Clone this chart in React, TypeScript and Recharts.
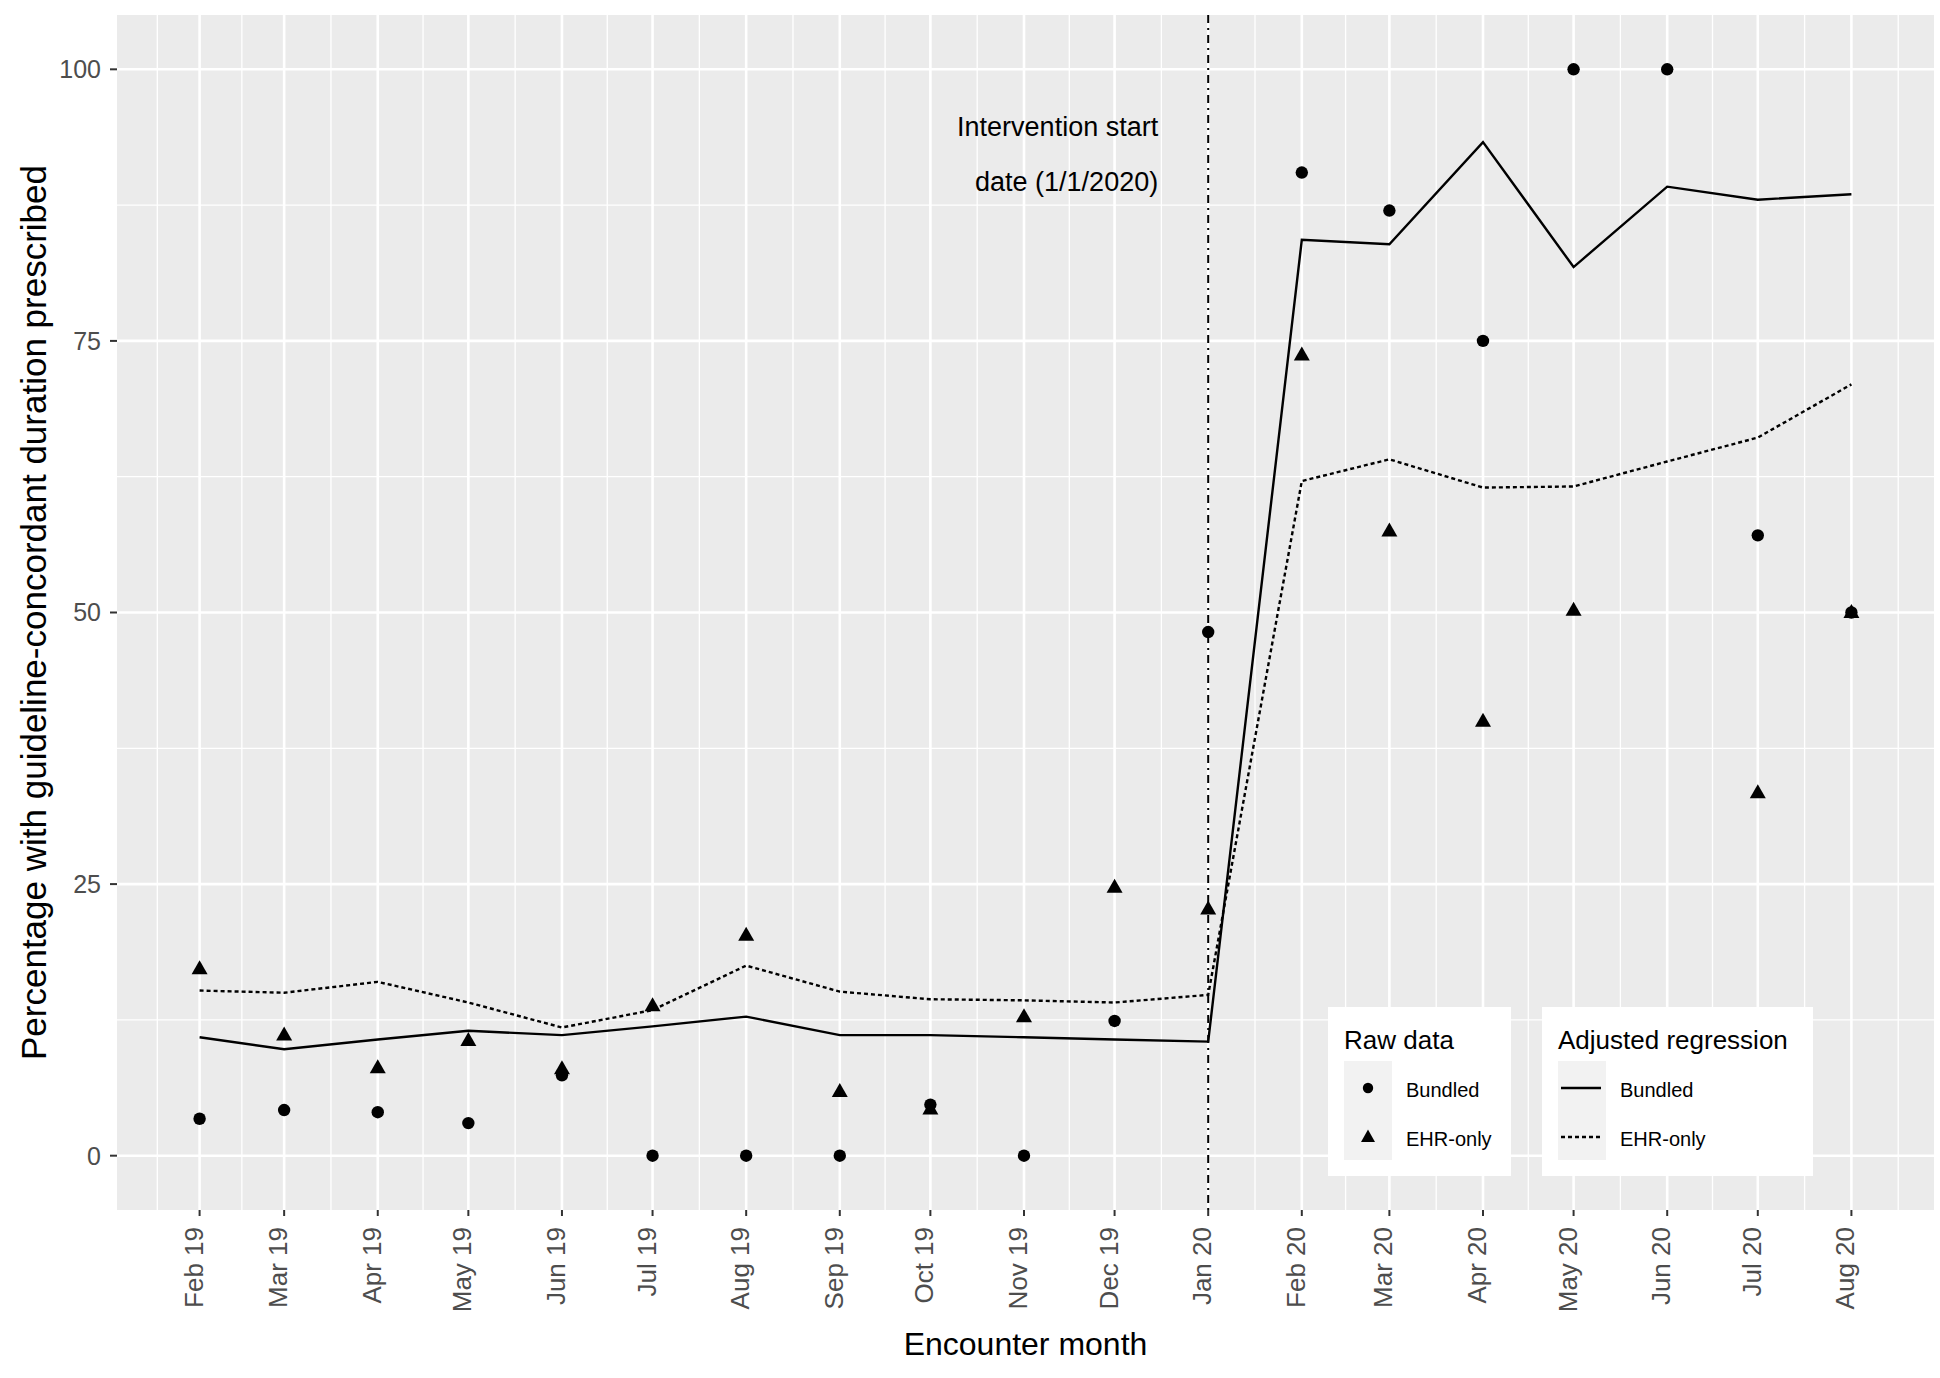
import React from "react";
import {
  ComposedChart,
  XAxis,
  YAxis,
  CartesianGrid,
  Line,
  Scatter,
  ReferenceLine,
  Label,
} from "recharts";

const FONT = '"Liberation Sans", Arial, sans-serif';

// encounter months (first day of month) and their axis labels
const monthStarts = [
  "2019-02-01", "2019-03-01", "2019-04-01", "2019-05-01", "2019-06-01", "2019-07-01",
  "2019-08-01", "2019-09-01", "2019-10-01", "2019-11-01", "2019-12-01", "2020-01-01",
  "2020-02-01", "2020-03-01", "2020-04-01", "2020-05-01", "2020-06-01", "2020-07-01",
  "2020-08-01",
];
const monthLabels = [
  "Feb 19", "Mar 19", "Apr 19", "May 19", "Jun 19", "Jul 19", "Aug 19", "Sep 19", "Oct 19",
  "Nov 19", "Dec 19", "Jan 20", "Feb 20", "Mar 20", "Apr 20", "May 20", "Jun 20", "Jul 20",
  "Aug 20",
];

// raw monthly percentages
const bundledRaw = [3.4, 4.2, 4.0, 3.0, 7.4, 0, 0, 0, 4.7, 0, 12.4, 48.2, 90.5, 87.0, 75.0, 100, 100, 57.1, 50.0];
const ehrRaw = [17.2, 11.1, 8.1, 10.6, 8.0, 13.8, 20.3, 5.9, 4.3, 12.8, 24.7, 22.7, 73.7, 57.5, 40.0, 50.2, null, 33.4, 50.0];

// adjusted regression fits
const bundledFit = [10.9, 9.8, 10.7, 11.5, 11.1, 11.9, 12.8, 11.1, 11.1, 10.9, 10.7, 10.5, 84.3, 83.9, 93.3, 81.8, 89.2, 88.0, 88.5];
const ehrFit = [15.2, 15.0, 16.0, 14.1, 11.8, 13.4, 17.5, 15.1, 14.4, 14.3, 14.1, 14.8, 62.1, 64.1, 61.5, 61.6, 63.9, 66.1, 71.0];

const interventionDate = "2020-01-01";
const yTicks = [0, 25, 50, 75, 100];
const yMinor = [12.5, 37.5, 62.5, 87.5];

const toDays = (iso: string) => Date.parse(iso + "T00:00:00Z") / 86400000;

const majorX = monthStarts.map(toDays);
const first = majorX[0];
const last = majorX[majorX.length - 1];
const span = last - first;
const xDomain = [first - span * 0.05, last + span * 0.05];

// ggplot-style minor breaks: midpoints, plus one beyond each end
const extX = [
  first - (majorX[1] - first),
  ...majorX,
  last + (last - majorX[majorX.length - 2]),
];
const minorX = extX
  .slice(1)
  .map((v, i) => (v + extX[i]) / 2)
  .filter((v) => v >= xDomain[0] && v <= xDomain[1]);

const rows = majorX.map((x, i) => ({
  x,
  bundledFit: bundledFit[i],
  ehrFit: ehrFit[i],
}));
const bundledPoints = majorX.map((x, i) => ({ x, y: bundledRaw[i] }));
const ehrPoints = majorX
  .map((x, i) => ({ x, y: ehrRaw[i] }))
  .filter((p) => p.y !== null);

const labelFor = (v: number) => {
  const i = majorX.indexOf(v);
  return i >= 0 ? monthLabels[i] : "";
};

function MonthTick(props: any) {
  const { x, y, payload } = props;
  const xx = x - 6;
  return (
    <text
      x={xx}
      y={y}
      transform={`rotate(-90 ${xx} ${y})`}
      textAnchor="end"
      dominantBaseline="central"
      fontSize={26}
      fill="#4D4D4D"
      fontFamily={FONT}
    >
      {labelFor(payload.value)}
    </text>
  );
}

function CircleShape(props: any) {
  if (props.cx == null || props.cy == null) return null;
  return <circle cx={props.cx} cy={props.cy} r={6.2} fill="#000" />;
}

function TriangleShape(props: any) {
  const { cx, cy } = props;
  if (cx == null || cy == null) return null;
  return (
    <polygon
      points={`${cx},${cy - 8.5} ${cx - 8},${cy + 5.5} ${cx + 8},${cy + 5.5}`}
      fill="#000"
    />
  );
}

function LegendBox({
  left,
  width,
  title,
  kind,
}: {
  left: number;
  width: number;
  title: string;
  kind: "points" | "lines";
}) {
  const rowsY = [81, 130];
  return (
    <div
      style={{
        position: "absolute",
        left,
        top: 1007,
        width,
        height: 169,
        background: "#fff",
        fontFamily: FONT,
        color: "#000",
      }}
    >
      <div style={{ position: "absolute", left: 16, top: 19, fontSize: 26, lineHeight: "28px", whiteSpace: "nowrap" }}>
        {title}
      </div>
      <svg style={{ position: "absolute", left: 16, top: 54 }} width={48} height={99}>
        <rect x={0} y={0} width={48} height={99} fill="#F2F2F2" />
        {kind === "points" ? (
          <>
            <circle cx={24} cy={rowsY[0] - 54} r={5.2} fill="#000" />
            <polygon points={`24,${rowsY[1] - 54 - 7.5} 17,${rowsY[1] - 54 + 5} 31,${rowsY[1] - 54 + 5}`} fill="#000" />
          </>
        ) : (
          <>
            <line x1={3} x2={43} y1={rowsY[0] - 54} y2={rowsY[0] - 54} stroke="#000" strokeWidth={2.4} />
            <line x1={3} x2={43} y1={rowsY[1] - 54} y2={rowsY[1] - 54} stroke="#000" strokeWidth={2.4} strokeDasharray="4 3" />
          </>
        )}
      </svg>
      {["Bundled", "EHR-only"].map((t, i) => (
        <div
          key={t}
          style={{
            position: "absolute",
            left: 78,
            top: rowsY[i] + 2 - 11,
            fontSize: 20,
            lineHeight: "22px",
            whiteSpace: "nowrap",
          }}
        >
          {t}
        </div>
      ))}
    </div>
  );
}

export default function App() {
  return (
    <div style={{ position: "absolute", left: 0, top: 0, width: 1940, height: 1378, background: "#fff" }}>
      <ComposedChart
        width={1940}
        height={1378}
        data={rows}
        margin={{ top: 15, right: 6, left: 37, bottom: 38 }}
      >
        <CartesianGrid
          fill="#EBEBEB"
          stroke="#FFFFFF"
          strokeWidth={1.3}
          verticalValues={minorX}
          horizontalValues={yMinor}
        />
        <CartesianGrid
          stroke="#FFFFFF"
          strokeWidth={2.6}
          verticalValues={majorX}
          horizontalValues={yTicks}
        />

        <XAxis
          type="number"
          dataKey="x"
          domain={xDomain}
          ticks={majorX}
          interval={0}
          allowDataOverflow
          axisLine={false}
          tickLine={{ stroke: "#333333", strokeWidth: 2 }}
          tickSize={6}
          tickMargin={11}
          height={130}
          tick={(p: any) => <MonthTick {...p} />}
        >
          <Label
            content={(p: any) => {
              const vb = p.viewBox;
              return (
                <text
                  x={vb.x + vb.width / 2}
                  y={vb.y + 134}
                  textAnchor="middle"
                  dominantBaseline="central"
                  fontSize={32}
                  fill="#000"
                  fontFamily={FONT}
                >
                  Encounter month
                </text>
              );
            }}
          />
        </XAxis>
        <YAxis
          type="number"
          domain={[-5, 105]}
          ticks={yTicks}
          interval={0}
          allowDataOverflow
          axisLine={false}
          tickLine={{ stroke: "#333333", strokeWidth: 2 }}
          tickSize={7}
          tickMargin={9}
          width={80}
          tick={{ fontSize: 25, fill: "#4D4D4D", fontFamily: FONT }}
        >
          <Label
            content={(p: any) => {
              const vb = p.viewBox;
              const cx = vb.x - 4;
              const cy = vb.y + vb.height / 2;
              return (
                <text
                  x={cx}
                  y={cy}
                  transform={`rotate(-90 ${cx} ${cy})`}
                  textAnchor="middle"
                  dominantBaseline="central"
                  fontSize={35}
                  fill="#000"
                  fontFamily={FONT}
                >
                  Percentage with guideline-concordant duration prescribed
                </text>
              );
            }}
          />
        </YAxis>

        <ReferenceLine
          x={toDays(interventionDate)}
          stroke="#000"
          strokeWidth={2}
          strokeDasharray="2 5 8 5"
          label={(p: any) => {
            const vb = p.viewBox;
            return (
              <g fontFamily={FONT} fontSize={27} fill="#000">
                <text x={vb.x - 50} y={vb.y + 112} textAnchor="end" dominantBaseline="central">
                  Intervention start
                </text>
                <text x={vb.x - 50} y={vb.y + 167} textAnchor="end" dominantBaseline="central">
                  date (1/1/2020)
                </text>
              </g>
            );
          }}
        />

        <Line
          type="linear"
          dataKey="bundledFit"
          stroke="#000"
          strokeWidth={2.4}
          dot={false}
          activeDot={false}
          isAnimationActive={false}
        />
        <Line
          type="linear"
          dataKey="ehrFit"
          stroke="#000"
          strokeWidth={2.4}
          strokeDasharray="4 3"
          dot={false}
          activeDot={false}
          isAnimationActive={false}
        />
        <Scatter data={bundledPoints} dataKey="y" shape={CircleShape} isAnimationActive={false} />
        <Scatter data={ehrPoints} dataKey="y" shape={TriangleShape} isAnimationActive={false} />
      </ComposedChart>

      <LegendBox left={1328} width={183} title="Raw data" kind="points" />
      <LegendBox left={1542} width={271} title="Adjusted regression" kind="lines" />
    </div>
  );
}
